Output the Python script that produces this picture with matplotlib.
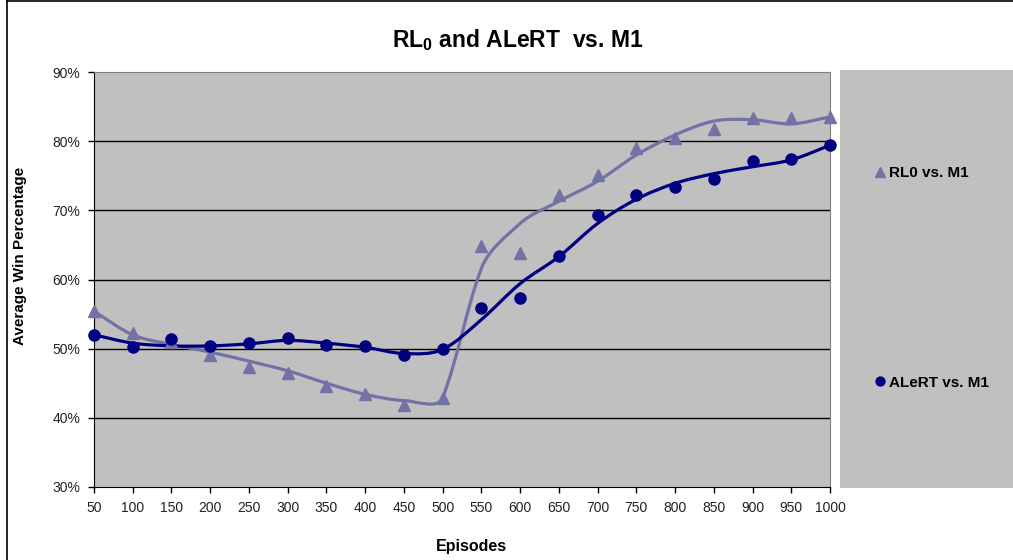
import matplotlib
matplotlib.use("Agg")
import matplotlib.pyplot as plt
import numpy as np
from matplotlib.path import Path
from matplotlib.patches import PathPatch, Rectangle
from matplotlib.lines import Line2D

plt.rcParams['font.family'] = ['Liberation Sans', 'DejaVu Sans']
plt.rcParams['mathtext.fontset'] = 'custom'
plt.rcParams['mathtext.rm'] = 'Liberation Sans:bold'

episodes = [50, 100, 150, 200, 250, 300, 350, 400, 450, 500,
            550, 600, 650, 700, 750, 800, 850, 900, 950, 1000]

# markers (win %)
rl0_points = [55.4, 52.3, 50.9, 49.1, 47.4, 46.5, 44.6, 43.4, 41.9, 42.9,
              64.8, 63.8, 72.2, 75.1, 79.0, 80.5, 81.8, 83.3, 83.4, 83.5]
alert_points = [52.0, 50.2, 51.4, 50.4, 50.8, 51.5, 50.6, 50.4, 49.1, 50.0,
                55.9, 57.3, 63.4, 69.3, 72.2, 73.4, 74.5, 77.2, 77.4, 79.4]

# smoothed lines (win %)
rl0_curve = [55.4, 52.0, 50.6, 49.5, 48.2, 46.8, 45.0, 43.4, 42.5, 42.9,
             61.6, 68.1, 71.3, 74.2, 78.0, 80.9, 82.9, 83.1, 82.5, 83.5]
alert_curve = [52.0, 50.8, 50.4, 50.4, 50.7, 51.2, 50.8, 50.2, 49.3, 49.9,
               54.2, 59.4, 63.3, 68.1, 71.6, 73.9, 75.3, 76.3, 77.3, 79.4]

y_ticks = [30, 40, 50, 60, 70, 80, 90]

rl0_color = '#7272A6'
alert_color = '#000080'


def smooth_path(ax, xs, ys):
	# smoothed line like excel: bezier arms a third of each segment,
	# tangent leans to the longer neighbour chord, done in screen space
	pts = ax.transData.transform(np.column_stack([xs, ys]).astype(float))
	n = len(pts)
	tang = []
	for i in range(n):
		d1 = pts[i] - pts[max(i - 1, 0)]
		d2 = pts[min(i + 1, n - 1)] - pts[i]
		d = d1 * np.hypot(*d1) + d2 * np.hypot(*d2)
		tang.append(d / np.hypot(*d))
	verts = [pts[0]]
	codes = [Path.MOVETO]
	for i in range(n - 1):
		p1, p2 = pts[i], pts[i + 1]
		seg = np.hypot(*(p2 - p1)) / 3
		verts += [p1 + tang[i] * seg, p2 - tang[i + 1] * seg, p2]
		codes += [Path.CURVE4] * 3
	verts = ax.transData.inverted().transform(np.array(verts))
	return Path(verts, codes)


fig = plt.figure(figsize=[10.13, 5.6], dpi=100)
ax = fig.add_axes([94 / 1013, 1 - 487 / 560, 736 / 1013, 415 / 560])
ax.set_facecolor('#C0C0C0')
ax.set_xlim(50, 1000)
ax.set_ylim(30, 90)

for curve, color in [(rl0_curve, rl0_color), (alert_curve, alert_color)]:
	ax.add_patch(PathPatch(smooth_path(ax, episodes, curve), fill=False,
	                       edgecolor=color, lw=2.3, zorder=3))

ax.plot(episodes, rl0_points, '^', color=rl0_color, ms=9, zorder=4,
        clip_on=False, label='RL0 vs. M1')
ax.plot(episodes, alert_points, 'o', color=alert_color, ms=8, zorder=5,
        clip_on=False, label='ALeRT vs. M1')

ax.set_xticks(episodes, [str(e) for e in episodes])
ax.set_yticks(y_ticks, ['%d%%' % v for v in y_ticks])
ax.tick_params(labelsize=10, colors='black', labelcolor='#222222',
               length=4, width=1, pad=6)
for v in y_ticks[1:-1]:
	ax.axhline(v, color='black', lw=1, zorder=1)
ax.spines['top'].set_color('#808080')
ax.spines['right'].set_color('#808080')
for s in ['left', 'bottom']:
	ax.spines[s].set_color('black')

# legend panel
fig.patches.append(Rectangle((840 / 1013, 1 - 488 / 560), 173 / 1013, 418 / 560,
                             transform=fig.transFigure, facecolor='#C0C0C0',
                             edgecolor='none', zorder=0))
handles, labels = ax.get_legend_handles_labels()
leg = fig.legend(handles, labels, loc='center left',
                 bbox_to_anchor=(875 / 1013, 1 - 278 / 560),
                 frameon=False, fontsize=11, labelspacing=12.8,
                 handlelength=0.6, handletextpad=0.3, borderpad=0,
                 borderaxespad=0, markerscale=0.8)
for t in leg.get_texts():
	t.set_fontweight('bold')

fig.suptitle(r'RL$_\mathrm{0}$ and ALeRT  vs. M1', x=518 / 1013, y=1 - 40 / 560,
             va='center', fontsize=16.5, fontweight='bold')
fig.text(20 / 1013, 1 - 256 / 560, 'Average Win Percentage', rotation=90,
         ha='center', va='center', fontsize=11, fontweight='bold')
fig.text(471 / 1013, 1 - 547 / 560, 'Episodes', ha='center', va='center',
         fontsize=11.5, fontweight='bold')

# outer frame of chart
fig.add_artist(Line2D([7 / 1013, 7 / 1013], [0, 1 - 1 / 560], color='black',
                      lw=1.2, transform=fig.transFigure))
fig.add_artist(Line2D([7 / 1013, 1], [1 - 1 / 560, 1 - 1 / 560], color='black',
                      lw=1.2, transform=fig.transFigure))

fig.savefig('out.png', dpi=100)
